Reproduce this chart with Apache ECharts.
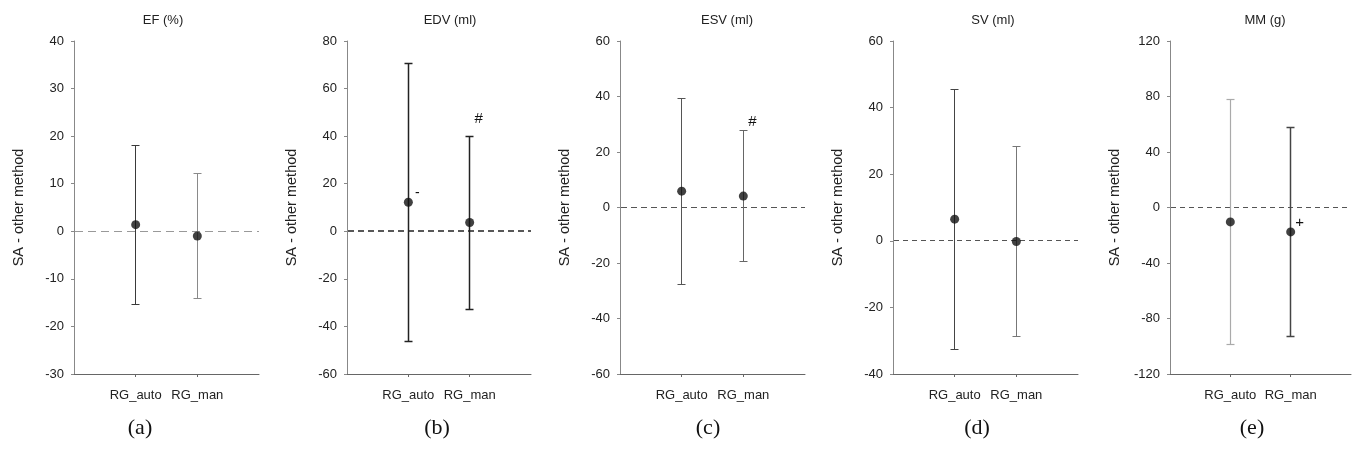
<!DOCTYPE html>
<html>
<head>
<meta charset="utf-8">
<script src="https://cdn.jsdelivr.net/npm/echarts@6/dist/echarts.min.js"></script>
<style>
html,body{margin:0;padding:0;background:#fff;}
#chart{width:1357px;height:454px;}
</style>
</head>
<body>
<div id="chart"></div>
<script>
// ---------------- data ----------------
const categories = ['RG_auto', 'RG_man'];
const panelTitles = ['EF (%)', 'EDV (ml)', 'ESV (ml)', 'SV (ml)', 'MM (g)'];
const panelTags = ['(a)', '(b)', '(c)', '(d)', '(e)'];
const yAxisName = 'SA - other method';
const yMin = [-30, -60, -60, -40, -120];
const yMax = [40, 80, 60, 60, 120];
const yStep = [10, 20, 20, 20, 40];
// mean difference (dot) for [RG_auto, RG_man]
const meanDiff = [[1.4, -1.0], [12.2, 3.7], [5.9, 4.1], [6.5, -0.2], [-10.4, -17.6]];
// upper limit of agreement
const upperLoA = [[18.0, 12.1], [70.7, 39.9], [39.4, 27.7], [45.4, 28.4], [78.0, 57.6]];
// lower limit of agreement
const lowerLoA = [[-15.3, -14.2], [-46.5, -32.9], [-27.8, -19.5], [-32.6, -28.6], [-98.4, -93.2]];
// significance marks: panel, category index, anchor value
const marks = [
  { panel: 1, cat: 0, at: 'mean', text: '-' },
  { panel: 1, cat: 1, at: 'upper', text: '#' },
  { panel: 2, cat: 1, at: 'upper', text: '#' },
  { panel: 4, cat: 1, at: 'mean', text: '+' }
];

// ---------------- styles / layout ----------------
const gridLeft = [74, 347, 620, 893, 1170];
const gridWidth = [185, 184, 185, 185, 181];
const gridTop = 41, gridHeight = 333;
const titleX = [163, 450, 727, 993, 1265];
const tagX = [140, 437, 708, 977, 1252];
const barColor = [['#3a3a3a', '#8a8a8a'], ['#222', '#222'], ['#555', '#666'], ['#444', '#777'], ['#aaa', '#444']];
const barWidth = [[1, 1], [1.5, 1.5], [1, 1], [1, 1], [1.2, 1.5]];
const zeroColor = ['#999', '#222', '#555', '#555', '#555'];
const zeroWidth = [1, 1.5, 1, 1, 1];
const zeroDash = [[8, 5], [6, 4], [6, 4], [5, 4], [5, 4]];
const sans = 'Liberation Sans, Arial, sans-serif';

function markOffset(m) {
  if (m.panel === 1 && m.at === 'upper') return [9, -18];
  return [9, -9];
}
const crisp = v => Math.round(v - 0.5) + 0.5;

const grids = [], xAxes = [], yAxes = [], series = [], graphics = [];

panelTitles.forEach((t, p) => {
  const xMax = categories.length + 1;
  grids.push({ left: gridLeft[p], top: gridTop, width: gridWidth[p], height: gridHeight, containLabel: false });
  xAxes.push({
    type: 'value', gridIndex: p, min: 0, max: xMax, interval: 1,
    splitLine: { show: false },
    axisLine: { show: true, onZero: false, lineStyle: { color: '#666', width: 1 } },
    axisTick: { show: true, length: 3, lineStyle: { color: '#666' }, customValues: categories.map((c, i) => i + 1) },
    axisLabel: {
      customValues: categories.map((c, i) => i + 1),
      formatter: v => categories[v - 1] || '',
      color: '#222', fontSize: 13, fontFamily: sans, margin: 15
    }
  });
  yAxes.push({
    type: 'value', gridIndex: p, min: yMin[p], max: yMax[p], interval: yStep[p],
    name: yAxisName, nameLocation: 'middle', nameGap: 48,
    nameTextStyle: { color: '#222', fontSize: 14.5, fontFamily: sans },
    splitLine: { show: false },
    axisLine: { show: true, onZero: false, lineStyle: { color: '#888', width: 1 } },
    axisTick: { show: true, length: 3, lineStyle: { color: '#888' } },
    axisLabel: { color: '#222', fontSize: 13, fontFamily: sans, margin: 10 }
  });

  // zero reference line (dashed)
  series.push({
    type: 'custom', xAxisIndex: p, yAxisIndex: p, silent: true, z: 2,
    data: [[0, 0]],
    renderItem: (params, api) => {
      const a = api.coord([0, api.value(1)]);
      const b = api.coord([xMax, api.value(1)]);
      const y = zeroWidth[p] > 1.2 ? Math.round(a[1]) : crisp(a[1]);
      return {
        type: 'line', shape: { x1: a[0] + 1, y1: y, x2: b[0], y2: y },
        style: { stroke: zeroColor[p], lineWidth: zeroWidth[p], lineDash: zeroDash[p] }
      };
    }
  });

  // error bars (limits of agreement)
  series.push({
    type: 'custom', xAxisIndex: p, yAxisIndex: p, silent: true, z: 3,
    data: categories.map((c, i) => [i + 1, lowerLoA[p][i], upperLoA[p][i]]),
    renderItem: (params, api) => {
      const i = params.dataIndex;
      const lo = api.coord([api.value(0), api.value(1)]);
      const hi = api.coord([api.value(0), api.value(2)]);
      const col = barColor[p][i], lw = barWidth[p][i], w = 4;
      const x = crisp(lo[0]);
      const st = { stroke: col, lineWidth: lw };
      return {
        type: 'group', children: [
          { type: 'line', shape: { x1: x, y1: lo[1], x2: x, y2: hi[1] }, style: st },
          { type: 'line', shape: { x1: x - w, y1: crisp(hi[1]), x2: x + w, y2: crisp(hi[1]) }, style: st },
          { type: 'line', shape: { x1: x - w, y1: crisp(lo[1]), x2: x + w, y2: crisp(lo[1]) }, style: st }
        ]
      };
    }
  });

  // mean difference dots
  series.push({
    type: 'scatter', xAxisIndex: p, yAxisIndex: p, silent: true, z: 4,
    symbol: 'circle', symbolSize: 9,
    itemStyle: { color: '#111' },
    data: categories.map((c, i) => [i + 1, meanDiff[p][i]])
  });

  graphics.push({
    type: 'text', x: titleX[p], y: 20,
    style: { text: t, fill: '#222', font: '13px ' + sans, align: 'center', verticalAlign: 'middle' }
  });
  graphics.push({
    type: 'text', x: tagX[p], y: 428,
    style: { text: panelTags[p], fill: '#111', font: '22px Liberation Serif, Times New Roman, serif', align: 'center', verticalAlign: 'middle' }
  });
});

// significance marks
marks.forEach(m => {
  const val = m.at === 'mean' ? meanDiff[m.panel][m.cat] : upperLoA[m.panel][m.cat];
  const off = markOffset(m);
  series.push({
    type: 'custom', xAxisIndex: m.panel, yAxisIndex: m.panel, silent: true, z: 5,
    data: [[m.cat + 1, val]],
    renderItem: (params, api) => {
      const pt = api.coord([api.value(0), api.value(1)]);
      return {
        type: 'text', x: pt[0] + off[0], y: pt[1] + off[1],
        style: { text: m.text, fill: '#111', font: (m.text === '-' ? '14px ' : '15px ') + sans, align: 'center', verticalAlign: 'middle' }
      };
    }
  });
});

const chart = echarts.init(document.getElementById('chart'), null, { renderer: 'canvas' });
chart.setOption({
  animation: false,
  backgroundColor: '#fff',
  grid: grids, xAxis: xAxes, yAxis: yAxes, series: series, graphic: graphics
});
</script>
</body>
</html>
